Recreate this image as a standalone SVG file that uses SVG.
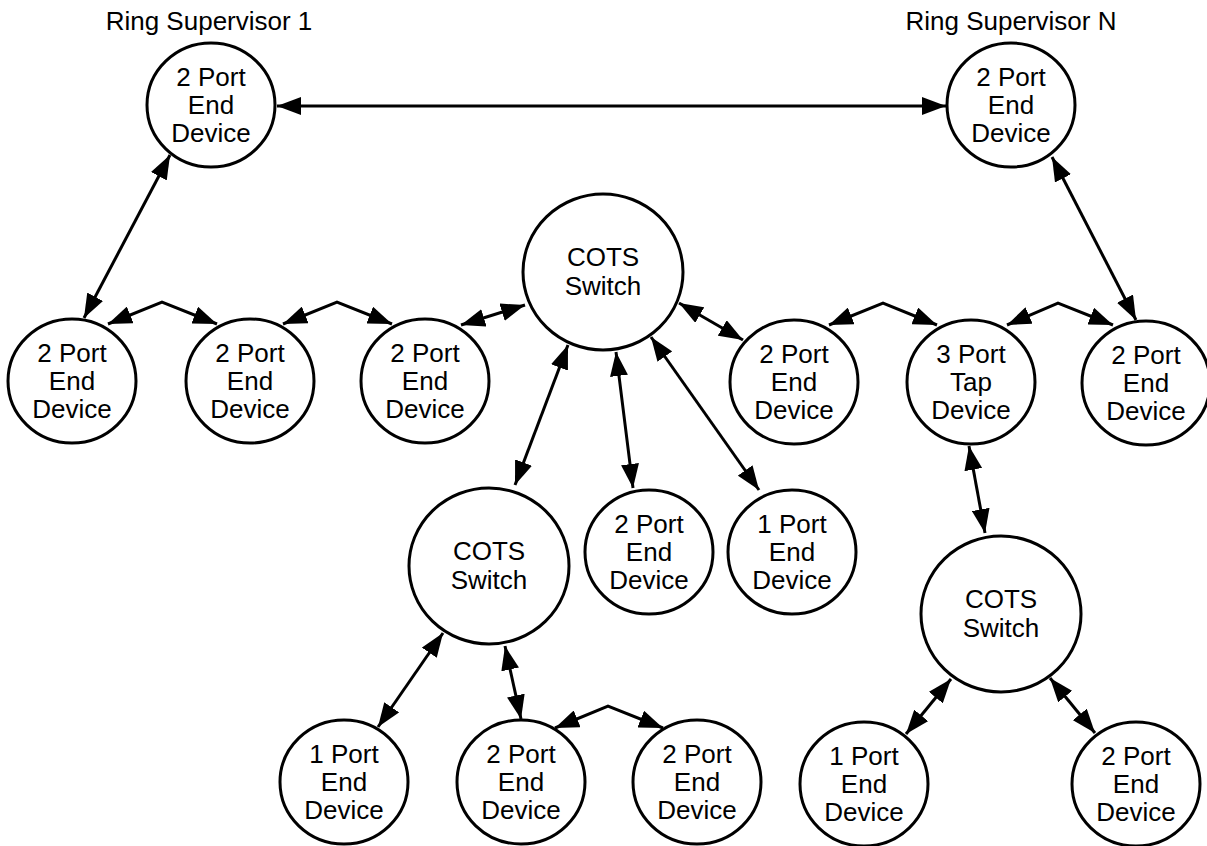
<svg xmlns="http://www.w3.org/2000/svg" width="1207" height="846" viewBox="0 0 1207 846">
<style>
.n{fill:#fff;stroke:#000;stroke-width:3}
.t{font-family:"Liberation Sans",Arial,sans-serif;font-size:26px;fill:#000;text-anchor:middle}
.c{fill:none;stroke:#000;stroke-width:3;marker-start:url(#ah);marker-end:url(#ah)}
</style>
<defs>
<marker id="ah" viewBox="0 0 24 18" refX="24" refY="9" markerWidth="24" markerHeight="18" markerUnits="userSpaceOnUse" orient="auto-start-reverse">
<path d="M0,0 L24,9 L0,18 z" fill="#000"/>
</marker>
</defs>
<rect width="1207" height="846" fill="#fff"/>
<text class="t" x="209" y="30">Ring Supervisor 1</text>
<text class="t" x="1011" y="30">Ring Supervisor N</text>
<g id="connectors">
<path class="c" d="M277,106 L946,106"/>
<path class="c" d="M170,155 L84,318"/>
<path class="c" d="M1052,157 L1136,320"/>
<path class="c" d="M108,324 L162,302 L217,324"/>
<path class="c" d="M283,324 L337,302 L392,324"/>
<path class="c" d="M461,325 L525,305"/>
<path class="c" d="M568,345 L515,485"/>
<path class="c" d="M616,352 L633,488"/>
<path class="c" d="M651,337 L759,490"/>
<path class="c" d="M679,303 L743,340"/>
<path class="c" d="M829,325 L883,303 L937,325"/>
<path class="c" d="M1007,325 L1058,303 L1113,325"/>
<path class="c" d="M969,446 L985,533"/>
<path class="c" d="M443,633 L378,727"/>
<path class="c" d="M505,646 L521,719"/>
<path class="c" d="M555,728 L608,706 L663,728"/>
<path class="c" d="M951,679 L906,734"/>
<path class="c" d="M1050,678 L1095,733"/>
</g>
<g id="s1"><ellipse class="n" cx="211" cy="105" rx="64" ry="62"/><text class="t"><tspan x="211" y="85.5">2 Port</tspan><tspan x="211" y="113.5">End</tspan><tspan x="211" y="141.5">Device</tspan></text></g>
<g id="sn"><ellipse class="n" cx="1011" cy="105" rx="64" ry="62"/><text class="t"><tspan x="1011" y="85.5">2 Port</tspan><tspan x="1011" y="113.5">End</tspan><tspan x="1011" y="141.5">Device</tspan></text></g>
<g id="a1"><ellipse class="n" cx="72" cy="381" rx="64" ry="62"/><text class="t"><tspan x="72" y="361.5">2 Port</tspan><tspan x="72" y="389.5">End</tspan><tspan x="72" y="417.5">Device</tspan></text></g>
<g id="a2"><ellipse class="n" cx="250" cy="381" rx="64" ry="62"/><text class="t"><tspan x="250" y="361.5">2 Port</tspan><tspan x="250" y="389.5">End</tspan><tspan x="250" y="417.5">Device</tspan></text></g>
<g id="a3"><ellipse class="n" cx="425" cy="381" rx="64" ry="62"/><text class="t"><tspan x="425" y="361.5">2 Port</tspan><tspan x="425" y="389.5">End</tspan><tspan x="425" y="417.5">Device</tspan></text></g>
<g id="cots1"><ellipse class="n" cx="603" cy="272" rx="80" ry="78"/><text class="t"><tspan x="603" y="266">COTS</tspan><tspan x="603" y="295">Switch</tspan></text></g>
<g id="b1"><ellipse class="n" cx="794" cy="382" rx="64" ry="62"/><text class="t"><tspan x="794" y="362.5">2 Port</tspan><tspan x="794" y="390.5">End</tspan><tspan x="794" y="418.5">Device</tspan></text></g>
<g id="b2"><ellipse class="n" cx="971" cy="382" rx="64" ry="62"/><text class="t"><tspan x="971" y="362.5">3 Port</tspan><tspan x="971" y="390.5">Tap</tspan><tspan x="971" y="418.5">Device</tspan></text></g>
<g id="b3"><ellipse class="n" cx="1146" cy="383" rx="64" ry="62"/><text class="t"><tspan x="1146" y="363.5">2 Port</tspan><tspan x="1146" y="391.5">End</tspan><tspan x="1146" y="419.5">Device</tspan></text></g>
<g id="cots2"><ellipse class="n" cx="489" cy="566" rx="80" ry="78"/><text class="t"><tspan x="489" y="560">COTS</tspan><tspan x="489" y="589">Switch</tspan></text></g>
<g id="c1"><ellipse class="n" cx="649" cy="552" rx="64" ry="62"/><text class="t"><tspan x="649" y="532.5">2 Port</tspan><tspan x="649" y="560.5">End</tspan><tspan x="649" y="588.5">Device</tspan></text></g>
<g id="c2"><ellipse class="n" cx="792" cy="552" rx="64" ry="62"/><text class="t"><tspan x="792" y="532.5">1 Port</tspan><tspan x="792" y="560.5">End</tspan><tspan x="792" y="588.5">Device</tspan></text></g>
<g id="cots3"><ellipse class="n" cx="1001" cy="614" rx="80" ry="78"/><text class="t"><tspan x="1001" y="608">COTS</tspan><tspan x="1001" y="637">Switch</tspan></text></g>
<g id="d1"><ellipse class="n" cx="344" cy="782" rx="64" ry="62"/><text class="t"><tspan x="344" y="762.5">1 Port</tspan><tspan x="344" y="790.5">End</tspan><tspan x="344" y="818.5">Device</tspan></text></g>
<g id="d2"><ellipse class="n" cx="521" cy="782" rx="64" ry="62"/><text class="t"><tspan x="521" y="762.5">2 Port</tspan><tspan x="521" y="790.5">End</tspan><tspan x="521" y="818.5">Device</tspan></text></g>
<g id="d3"><ellipse class="n" cx="697" cy="782" rx="64" ry="62"/><text class="t"><tspan x="697" y="762.5">2 Port</tspan><tspan x="697" y="790.5">End</tspan><tspan x="697" y="818.5">Device</tspan></text></g>
<g id="e1"><ellipse class="n" cx="864" cy="784" rx="64" ry="62"/><text class="t"><tspan x="864" y="764.5">1 Port</tspan><tspan x="864" y="792.5">End</tspan><tspan x="864" y="820.5">Device</tspan></text></g>
<g id="e2"><ellipse class="n" cx="1136" cy="784" rx="64" ry="62"/><text class="t"><tspan x="1136" y="764.5">2 Port</tspan><tspan x="1136" y="792.5">End</tspan><tspan x="1136" y="820.5">Device</tspan></text></g>
</svg>
